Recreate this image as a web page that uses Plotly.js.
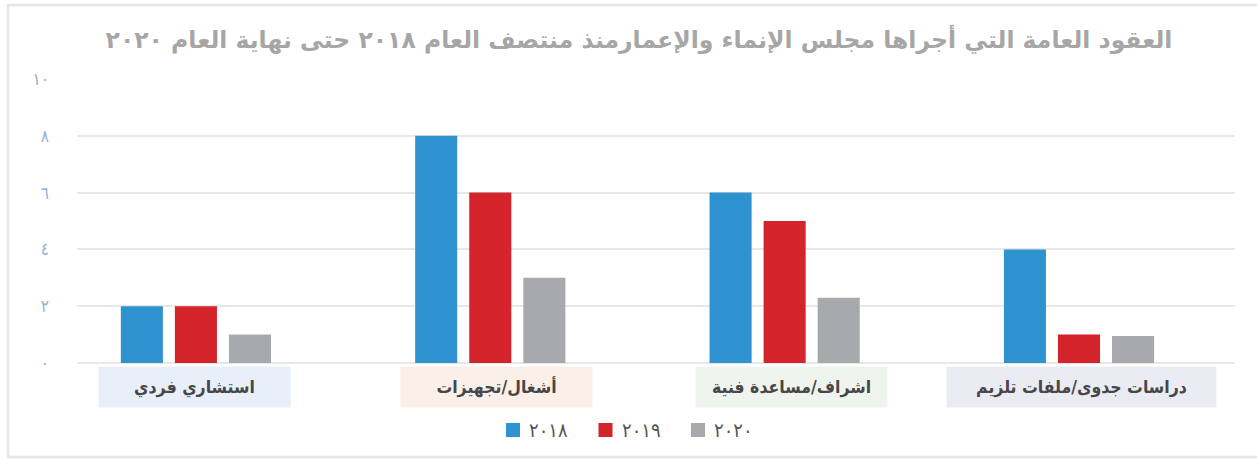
<!DOCTYPE html>
<html>
<head>
<meta charset="utf-8">
<script src="https://cdn.plot.ly/plotly-3.0.1.min.js"></script>
<style>
html,body{margin:0;padding:0;background:#fff;}
#chart{width:1257px;height:459px;}
</style>
</head>
<body>
<div id="chart"></div>
<script>
// ---- data ----
const categories = ["استشاري فردي", "أشغال/تجهيزات", "اشراف/مساعدة فنية", "دراسات جدوى/ملفات تلزيم"];
const seriesNames = ["٢٠١٨", "٢٠١٩", "٢٠٢٠"];
const values2018 = [2, 8, 6, 4];
const values2019 = [2, 6, 5, 1];
const values2020 = [1, 3, 2.3, 0.95];
const yTickValues = [0, 2, 4, 6, 8, 10];
const yTickLabels = ["٠", "٢", "٤", "٦", "٨", "١٠"];
const titleText = "العقود العامة التي أجراها مجلس الإنماء والإعمارمنذ منتصف العام ٢٠١٨ حتى نهاية العام ٢٠٢٠";

// ---- styles ----
const seriesColors = ["#2f93cf", "#d2242a", "#a8a9ad"];
const labelBg = ["#e8eff9", "#fbefe9", "#eff5ee", "#ebebf4"];
const labelW = [189, 189, 189, 267];
const labelShift = [-1, 6, 7, 3];

const W = 1257, H = 459;
const plotL = 77, plotR = 1235, plotT = 79, plotB = 363;
const pw = plotR - plotL, ph = plotB - plotT;
const px2x = p => (p - plotL) / pw;
const px2y = p => (plotB - p) / ph;

const x = categories.map((c, i) => i);
const allValues = [values2018, values2019, values2020];
const traces = allValues.map((v, i) => ({
  type: "bar",
  x: x,
  y: v,
  name: seriesNames[i],
  marker: {color: seriesColors[i]},
  showlegend: false,
  hoverinfo: "y+name"
}));

const annotations = categories.map((c, i) => ({
  x: i, xref: "x", y: 0, yref: "paper",
  xshift: labelShift[i], yshift: -24,
  yanchor: "middle", xanchor: "center",
  text: "<b>" + c + "</b>",
  showarrow: false,
  bgcolor: labelBg[i],
  width: labelW[i], height: 38,
  font: {family: "DejaVu Sans Condensed, DejaVu Sans", size: 17.5, color: "#474747"}
}));

const shapes = [];
// outer border
shapes.push({type: "rect", xref: "paper", yref: "paper",
  x0: px2x(8), x1: px2x(1264), y0: px2y(457), y1: px2y(5),
  line: {color: "#e6e6e6", width: 2.5}, fillcolor: "rgba(0,0,0,0)", layer: "below"});

// custom legend
seriesNames.forEach((n, i) => {
  const sx = 506 + i * 92.5;
  shapes.push({type: "rect", xref: "paper", yref: "paper",
    x0: px2x(sx), x1: px2x(sx + 14), y0: px2y(437), y1: px2y(423),
    line: {width: 0}, fillcolor: seriesColors[i]});
  annotations.push({xref: "paper", yref: "paper", x: px2x(sx + 21), y: px2y(430),
    xanchor: "left", yanchor: "middle", showarrow: false, text: n,
    font: {family: "DejaVu Sans Condensed, DejaVu Sans", size: 20, color: "#555555"}});
});

const layout = {
  width: W, height: H,
  margin: {l: plotL, r: W - plotR, t: plotT, b: H - plotB, pad: 0},
  paper_bgcolor: "#ffffff", plot_bgcolor: "#ffffff",
  title: {
    text: "<b>" + titleText + "</b>",
    xref: "container", yref: "container",
    x: 639 / W, y: 1 - 40 / H, xanchor: "center", yanchor: "middle",
    font: {family: "DejaVu Sans", size: 23.5, color: "#a6a6a6"}
  },
  barmode: "group",
  bargap: 0.449,
  bargroupgap: 0.222,
  xaxis: {
    range: [-0.404, 3.530],
    showticklabels: false, showgrid: false, zeroline: false, showline: false,
    fixedrange: true
  },
  yaxis: {
    range: [0, 10],
    tickvals: yTickValues, ticktext: yTickLabels,
    showgrid: true, gridcolor: "#e8e8e8", gridwidth: 2,
    zeroline: true, zerolinecolor: "#e8e8e8", zerolinewidth: 2,
    showline: false, ticks: "", ticklabelstandoff: 27,
    tickfont: {family: "DejaVu Sans Condensed, DejaVu Sans", size: 17, color: "#94afdb"},
    fixedrange: true
  },
  annotations: annotations,
  shapes: shapes
};

Plotly.newPlot("chart", traces, layout, {displayModeBar: false, staticPlot: true});
</script>
</body>
</html>
